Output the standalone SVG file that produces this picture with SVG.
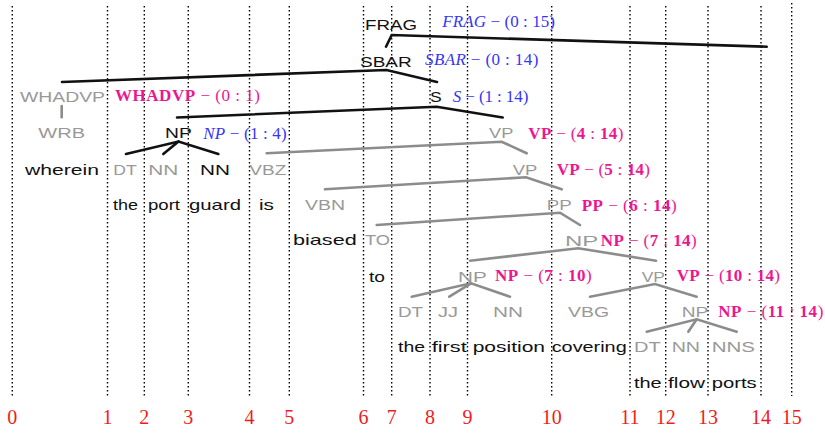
<svg xmlns="http://www.w3.org/2000/svg" width="825" height="433" viewBox="0 0 825 433">
<style>
.lb{font-family:"Liberation Sans",Arial,sans-serif;font-size:15px}
.k{fill:#111}
.g{fill:#999}
.an{font-family:"Liberation Serif","Times New Roman",serif;font-size:17px}
.bl{fill:#3636f4}
.mg{fill:#ee1690}
.b{font-weight:bold}
.i{font-style:italic}
.num{font-family:"Liberation Serif","Times New Roman",serif;font-size:20px;fill:#f01c1c;text-anchor:middle}
.dot{stroke:#000;stroke-width:1.4;stroke-dasharray:1.4 2.6;fill:none}
.ek{stroke:#111;stroke-width:2.6;fill:none;stroke-linecap:round}
.eg{stroke:#8c8c8c;stroke-width:2.6;fill:none;stroke-linecap:round}
</style>
<rect width="825" height="433" fill="#fff"/>
<g id="grid">
<line class="dot" x1="12.3" y1="6" x2="12.3" y2="398"/>
<line class="dot" x1="107.5" y1="6" x2="107.5" y2="398"/>
<line class="dot" x1="144.3" y1="6" x2="144.3" y2="398"/>
<line class="dot" x1="188.3" y1="6" x2="188.3" y2="398"/>
<line class="dot" x1="249.5" y1="6" x2="249.5" y2="398"/>
<line class="dot" x1="289.3" y1="6" x2="289.3" y2="398"/>
<line class="dot" x1="363.5" y1="6" x2="363.5" y2="398"/>
<line class="dot" x1="391.7" y1="6" x2="391.7" y2="398"/>
<line class="dot" x1="430" y1="6" x2="430" y2="398"/>
<line class="dot" x1="467.5" y1="6" x2="467.5" y2="398"/>
<line class="dot" x1="551.7" y1="6" x2="551.7" y2="398"/>
<line class="dot" x1="630" y1="6" x2="630" y2="398"/>
<line class="dot" x1="665.7" y1="6" x2="665.7" y2="398"/>
<line class="dot" x1="708" y1="6" x2="708" y2="398"/>
<line class="dot" x1="761" y1="6" x2="761" y2="398"/>
<line class="dot" x1="791.7" y1="3" x2="791.7" y2="396"/>
</g>
<g id="indices">
<text class="num" x="12.3" y="424">0</text>
<text class="num" x="107.5" y="424">1</text>
<text class="num" x="144.3" y="424">2</text>
<text class="num" x="188.3" y="424">3</text>
<text class="num" x="249.5" y="424">4</text>
<text class="num" x="289.3" y="424">5</text>
<text class="num" x="363.5" y="424">6</text>
<text class="num" x="391.7" y="424">7</text>
<text class="num" x="430" y="424">8</text>
<text class="num" x="467.5" y="424">9</text>
<text class="num" x="551.7" y="424">10</text>
<text class="num" x="630" y="424">11</text>
<text class="num" x="665.7" y="424">12</text>
<text class="num" x="708" y="424">13</text>
<text class="num" x="761" y="424">14</text>
<text class="num" x="791.7" y="424">15</text>
</g>
<g id="connectors">
<polyline class="ek" points="386,46.7 391.7,35 766.7,46.7"/>
<polyline class="ek" points="62,82 386.5,70 437,82"/>
<polyline class="ek" points="177,117.5 436.7,106.7 502.7,117.5"/>
<line class="eg" x1="61.7" y1="106" x2="61.7" y2="117.3"/>
<polyline class="ek" points="126,154 178.5,141.5 218.3,154"/>
<line class="ek" x1="178.5" y1="141.5" x2="163.3" y2="154"/>
<polyline class="eg" points="266.7,153.3 501.7,141.7 526.7,153.3"/>
<polyline class="eg" points="325,189.3 526,177.3 561.7,189.3"/>
<polyline class="eg" points="376.7,225 560,212.7 580,225"/>
<polyline class="eg" points="470,260.7 578.3,248.3 656,260.7"/>
<polyline class="eg" points="411.7,296.7 471,283.3 510,296.7"/>
<line class="eg" x1="471" y1="283.3" x2="449.3" y2="296.7"/>
<polyline class="eg" points="590,296.7 655,284 696.7,296.7"/>
<polyline class="eg" points="646.7,331.7 696.7,319.3 736.7,331.7"/>
<line class="eg" x1="696.7" y1="319.3" x2="688.3" y2="331.7"/>
</g>
<g id="n-frag">
<text class="lb k" x="365" y="30" textLength="52" lengthAdjust="spacingAndGlyphs">FRAG</text>
<text class="an bl" x="442.3" y="27" textLength="112.7"><tspan class="i">FRAG</tspan> − (0 : 15)</text>
</g>
<g id="n-sbar">
<text class="lb k" x="360" y="66.5" textLength="51.7" lengthAdjust="spacingAndGlyphs">SBAR</text>
<text class="an bl" x="425" y="64.5" textLength="113.3"><tspan class="i">SBAR</tspan> − (0 : 14)</text>
</g>
<g id="n-whadvp">
<text class="lb g" x="20" y="102" textLength="85" lengthAdjust="spacingAndGlyphs">WHADVP</text>
<text class="an mg" x="115" y="101" textLength="145"><tspan class="b">WHADVP</tspan> − (0 : 1)</text>
</g>
<g id="n-s">
<text class="lb k" x="430" y="102" textLength="11.7" lengthAdjust="spacingAndGlyphs">S</text>
<text class="an bl" x="452.7" y="101.5" textLength="75.6"><tspan class="i">S</tspan> − (1 : 14)</text>
</g>
<g id="n-period">
<text class="lb g" x="763.5" y="67" style="font-size:6px">.</text>
<text class="lb g" x="763.5" y="102" style="font-size:6px">.</text>
</g>
<g id="n-wrb">
<text class="lb g" x="38.3" y="138.3" textLength="46.7" lengthAdjust="spacingAndGlyphs">WRB</text>
<text class="lb k" x="25" y="175" textLength="74" lengthAdjust="spacingAndGlyphs">wherein</text>
</g>
<g id="n-np-1-4">
<text class="lb k" x="165" y="138.3" textLength="26.7" lengthAdjust="spacingAndGlyphs">NP</text>
<text class="an bl" x="203.3" y="139" textLength="83.4"><tspan class="i">NP</tspan> − (1 : 4)</text>
</g>
<g id="n-dt-1">
<text class="lb g" x="113.3" y="175" textLength="23.4" lengthAdjust="spacingAndGlyphs">DT</text>
<text class="lb k" x="113" y="210" textLength="25" lengthAdjust="spacingAndGlyphs">the</text>
</g>
<g id="n-nn-2">
<text class="lb g" x="148.3" y="175" textLength="30" lengthAdjust="spacingAndGlyphs">NN</text>
<text class="lb k" x="148" y="210" textLength="32" lengthAdjust="spacingAndGlyphs">port</text>
</g>
<g id="n-nn-3">
<text class="lb k" x="200" y="175" textLength="30" lengthAdjust="spacingAndGlyphs">NN</text>
<text class="lb k" x="189" y="210" textLength="52" lengthAdjust="spacingAndGlyphs">guard</text>
</g>
<g id="n-vbz">
<text class="lb g" x="249.3" y="175" textLength="37" lengthAdjust="spacingAndGlyphs">VBZ</text>
<text class="lb k" x="259" y="210" textLength="15" lengthAdjust="spacingAndGlyphs">is</text>
</g>
<g id="n-vp-4-14">
<text class="lb g" x="489" y="138.3" textLength="24.3" lengthAdjust="spacingAndGlyphs">VP</text>
<text class="an mg" x="528.3" y="139" textLength="95"><tspan class="b">VP</tspan> − (<tspan class="b">4</tspan> : <tspan class="b">14</tspan>)</text>
</g>
<g id="n-vp-5-14">
<text class="lb g" x="512.7" y="174.5" textLength="24.6" lengthAdjust="spacingAndGlyphs">VP</text>
<text class="an mg" x="556.7" y="175" textLength="93.3"><tspan class="b">VP</tspan> − (<tspan class="b">5</tspan> : <tspan class="b">14</tspan>)</text>
</g>
<g id="n-vbn">
<text class="lb g" x="305" y="210" textLength="40" lengthAdjust="spacingAndGlyphs">VBN</text>
<text class="lb k" x="293" y="245" textLength="63.7" lengthAdjust="spacingAndGlyphs">biased</text>
</g>
<g id="n-pp">
<text class="lb g" x="546.7" y="210" textLength="25" lengthAdjust="spacingAndGlyphs">PP</text>
<text class="an mg" x="581.7" y="210.5" textLength="95"><tspan class="b">PP</tspan> − (<tspan class="b">6</tspan> : <tspan class="b">14</tspan>)</text>
</g>
<g id="n-to">
<text class="lb g" x="365" y="245" textLength="25" lengthAdjust="spacingAndGlyphs">TO</text>
<text class="lb k" x="369" y="281.7" textLength="16" lengthAdjust="spacingAndGlyphs">to</text>
</g>
<g id="n-np-7-14">
<text class="lb g" x="565" y="245.5" textLength="33.3" lengthAdjust="spacingAndGlyphs">NP</text>
<text class="an mg" x="600.7" y="246" textLength="96"><tspan class="b">NP</tspan> − (<tspan class="b">7</tspan> : <tspan class="b">14</tspan>)</text>
</g>
<g id="n-np-7-10">
<text class="lb g" x="458" y="281.7" textLength="28.7" lengthAdjust="spacingAndGlyphs">NP</text>
<text class="an mg" x="495" y="281" textLength="96.7"><tspan class="b">NP</tspan> − (<tspan class="b">7</tspan> : <tspan class="b">10</tspan>)</text>
</g>
<g id="n-vp-10-14">
<text class="lb g" x="641.7" y="281.7" textLength="23.3" lengthAdjust="spacingAndGlyphs">VP</text>
<text class="an mg" x="676.7" y="281" textLength="103.3"><tspan class="b">VP</tspan> − (<tspan class="b">10</tspan> : <tspan class="b">14</tspan>)</text>
</g>
<g id="n-dt-7">
<text class="lb g" x="398" y="316.7" textLength="25" lengthAdjust="spacingAndGlyphs">DT</text>
<text class="lb k" x="398" y="351.7" textLength="27" lengthAdjust="spacingAndGlyphs">the</text>
</g>
<g id="n-jj-8">
<text class="lb g" x="438" y="316.7" textLength="20" lengthAdjust="spacingAndGlyphs">JJ</text>
<text class="lb k" x="431.7" y="351.7" textLength="35" lengthAdjust="spacingAndGlyphs">first</text>
</g>
<g id="n-nn-9">
<text class="lb g" x="493" y="316.7" textLength="30" lengthAdjust="spacingAndGlyphs">NN</text>
<text class="lb k" x="472.7" y="351.7" textLength="72.3" lengthAdjust="spacingAndGlyphs">position</text>
</g>
<g id="n-vbg-10">
<text class="lb g" x="568" y="316.7" textLength="41" lengthAdjust="spacingAndGlyphs">VBG</text>
<text class="lb k" x="551.7" y="351.7" textLength="75" lengthAdjust="spacingAndGlyphs">covering</text>
</g>
<g id="n-np-11-14">
<text class="lb g" x="681.7" y="316.7" textLength="26.6" lengthAdjust="spacingAndGlyphs">NP</text>
<text class="an mg" x="718.3" y="316.5" textLength="105"><tspan class="b">NP</tspan> − (<tspan class="b">11</tspan> : <tspan class="b">14</tspan>)</text>
</g>
<g id="n-dt-11">
<text class="lb g" x="634" y="351.7" textLength="26.7" lengthAdjust="spacingAndGlyphs">DT</text>
<text class="lb k" x="634" y="388.3" textLength="27.7" lengthAdjust="spacingAndGlyphs">the</text>
</g>
<g id="n-nn-12">
<text class="lb g" x="671.7" y="351.7" textLength="28.3" lengthAdjust="spacingAndGlyphs">NN</text>
<text class="lb k" x="668" y="388.3" textLength="37" lengthAdjust="spacingAndGlyphs">flow</text>
</g>
<g id="n-nns-13">
<text class="lb g" x="711.7" y="351.7" textLength="43.3" lengthAdjust="spacingAndGlyphs">NNS</text>
<text class="lb k" x="711.7" y="388.3" textLength="45" lengthAdjust="spacingAndGlyphs">ports</text>
</g>
</svg>
